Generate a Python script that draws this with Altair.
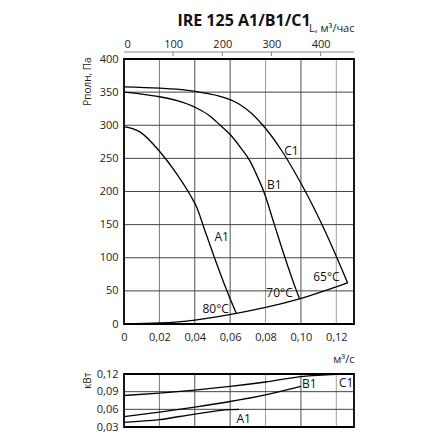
import altair as alt
import pandas as pd

TITLE = "IRE 125 A1/B1/C1"
FONT = "Open Sans"

# axis ticks
q_ticks = [0, 0.02, 0.04, 0.06, 0.08, 0.10, 0.12]
l_ticks = [0, 100, 200, 300, 400]
p_ticks = [0, 50, 100, 150, 200, 250, 300, 350, 400]
n_ticks = [0.03, 0.06, 0.09, 0.12]
q_max = 0.13
l_max = 468
p_max = 400
grid_q = [0.02, 0.04, 0.06, 0.08, 0.10, 0.12]
grid_shades = ["#777777", "#505050", "#505050", "#9a9a9a", "#505050", "#a0a0a0"]
hgrid_p = [50, 100, 150, 200, 250, 300, 350]
hgrid_n = [0.06, 0.09]

# pressure curves (Q m3/s, P Pa)
a1_q = [0, 0.009, 0.0203, 0.0297, 0.038, 0.041, 0.0456, 0.0513, 0.0597, 0.0635]
a1_p = [298, 290, 260, 227, 192, 177, 142, 99, 40, 16]
b1_q = [0, 0.01, 0.02, 0.03, 0.041, 0.048, 0.054, 0.06, 0.066, 0.071, 0.075, 0.079, 0.085, 0.091, 0.0975, 0.0992]
b1_p = [350, 347, 343, 337, 326, 315, 301, 286, 266, 247, 225, 200, 150, 100, 50, 38]
c1_q = [0, 0.02, 0.035, 0.045, 0.055, 0.065, 0.072, 0.0785, 0.0888, 0.1001, 0.1142, 0.1264]
c1_p = [358, 356, 353, 349, 343, 332, 318, 300, 263, 212, 137, 62]
sys_q = [0, 0.02, 0.04, 0.0635, 0.08, 0.0992, 0.1264]
sys_p = [0, 1.5, 6, 16, 25, 38, 62]

# power curves (Q m3/s, N kW)
a1n_q = [0, 0.02, 0.04, 0.06, 0.065]
a1n = [0.038, 0.0425, 0.052, 0.0595, 0.060]
b1n_q = [0, 0.02, 0.04, 0.06, 0.08, 0.10]
b1n = [0.0477, 0.0552, 0.0637, 0.0733, 0.0847, 0.099]
c1n_q = [0, 0.02, 0.04, 0.06, 0.08, 0.10, 0.12, 0.1264]
c1n = [0.0835, 0.0876, 0.0927, 0.0989, 0.1064, 0.1155, 0.1195, 0.12]

# labels
main_lbl_text = ["C1", "B1", "A1", "80°C", "70°C", "65°C"]
main_lbl_q = [0.0946, 0.085, 0.0552, 0.0518, 0.0879, 0.1144]
main_lbl_p = [261, 210, 131, 23, 47, 71]
pow_lbl_text = ["A1", "B1", "C1"]
pow_lbl_q = [0.0676, 0.1048, 0.1256]
pow_lbl_n = [0.0438, 0.1035, 0.1048]


def curves(names, qs, vs, col):
    rows = []
    for name, q, v in zip(names, qs, vs):
        for a, b in zip(q, v):
            rows.append({"curve": name, "Q": a, col: b})
    return pd.DataFrame(rows)


def grid(col, hvals, vlo, vhi):
    rows = []
    for i, (q, s) in enumerate(zip(grid_q, grid_shades)):
        rows.append({"gid": f"v{i}", "Q": q, col: vlo, "shade": s})
        rows.append({"gid": f"v{i}", "Q": q, col: vhi, "shade": s})
    for i, v in enumerate(hvals):
        rows.append({"gid": f"h{i}", "Q": 0, col: v, "shade": "#444444"})
        rows.append({"gid": f"h{i}", "Q": q_max, col: v, "shade": "#444444"})
    return pd.DataFrame(rows)


main_df = curves(["A1", "B1", "C1", "sys"], [a1_q, b1_q, c1_q, sys_q], [a1_p, b1_p, c1_p, sys_p], "P")
pow_df = curves(["A1", "B1", "C1"], [a1n_q, b1n_q, c1n_q], [a1n, b1n, c1n], "N")
grid_main = grid("P", hgrid_p, 0, p_max)
grid_pow = grid("N", hgrid_n, n_ticks[0], n_ticks[-1])
border_main = pd.DataFrame({"Q": [0], "Q2": [q_max], "P": [0], "P2": [p_max]})
border_pow = pd.DataFrame({"Q": [0], "Q2": [q_max], "N": [n_ticks[0]], "N2": [n_ticks[-1]]})
lbl_main = pd.DataFrame({"Q": main_lbl_q, "P": main_lbl_p, "text": main_lbl_text})
lbl_pow = pd.DataFrame({"Q": pow_lbl_q, "N": pow_lbl_n, "text": pow_lbl_text})

top_rows = [{"gid": "dom", "L": 0, "T": 0}, {"gid": "dom", "L": l_max, "T": 0}]
for v in l_ticks[1:]:
    top_rows += [{"gid": f"t{v}", "L": v, "T": 0}, {"gid": f"t{v}", "L": v, "T": 1}]
top_df = pd.DataFrame(top_rows)

xq = alt.Scale(domain=[0, q_max], nice=False)
yp = alt.Scale(domain=[0, p_max], range=[265, 0], nice=False)
yn = alt.Scale(domain=[n_ticks[0], n_ticks[-1]], range=[368, 315], nice=False, zero=False)
xl = alt.Scale(domain=[0, l_max], nice=False)
yt = alt.Scale(domain=[0, 1], range=[-7, -3], nice=False)

common = dict(labelFont=FONT, labelFontSize=11, labelColor="#222", titleFont=FONT,
              titleFontWeight="normal", titleColor="#222")

ax_q = alt.Axis(orient="bottom", values=q_ticks,
                labelExpr="datum.value == 0 ? '0' : replace(format(datum.value, '.2f'), '.', ',')",
                grid=False, ticks=False, tickSize=0, domain=False, offset=-103, labelPadding=7,
                labelFlush=False, title="м³/с", titleX=230, titleY=35, titleAlign="right",
                titleBaseline="middle", titleFontSize=11, **common)
ax_p = alt.Axis(orient="left", values=p_ticks, grid=False,
                ticks=False, tickSize=0, domain=False, labelPadding=6,
                title="Рполн, Па", titleX=-37, titleY=-2, titleAlign="right", titleAngle=270,
                titleBaseline="middle", titleFontSize=10, **common)
ax_n = alt.Axis(orient="left", values=n_ticks,
                labelExpr="replace(format(datum.value, '.2f'), '.', ',')",
                grid=False, ticks=False, tickSize=0, domain=False,
                labelPadding=6, title="кВт", titleX=-37, titleY=313, titleAlign="right",
                titleAngle=270, titleBaseline="middle", titleFontSize=10, **common)
ax_l = alt.Axis(orient="top", values=l_ticks, offset=7, grid=False, ticks=False, tickSize=0,
                domain=False, labelPadding=3,
                title="L, м³/час", titleX=230, titleY=-24, titleAlign="right",
                titleBaseline="middle", titleFontSize=11, **common)

XQ = alt.X("Q:Q", scale=xq, axis=ax_q)
YP = alt.Y("P:Q", scale=yp, axis=ax_p)
XQn = alt.X("Q:Q", scale=xq, axis=None)
YN = alt.Y("N:Q", scale=yn, axis=ax_n)
SHADE = alt.Color("shade:N", scale=None)

main = alt.layer(
    alt.Chart(grid_main).mark_line(strokeWidth=1).encode(
        x=XQ, y=YP, detail="gid:N", color=SHADE),
    alt.Chart(main_df).mark_line(color="black", strokeWidth=1.3, interpolate="monotone").encode(
        x=XQ, y=YP, detail="curve:N"),
    alt.Chart(border_main).mark_rect(fillOpacity=0, stroke="black", strokeWidth=1.8).encode(
        x=XQ, x2="Q2:Q", y=YP, y2="P2:Q"),
    alt.Chart(lbl_main).mark_text(font=FONT, fontSize=12, color="#111").encode(
        x=XQ, y=YP, text="text:N"),
)

power = alt.layer(
    alt.Chart(grid_pow).mark_line(strokeWidth=1).encode(
        x=XQn, y=YN, detail="gid:N", color=SHADE),
    alt.Chart(pow_df).mark_line(color="black", strokeWidth=1.3, interpolate="monotone").encode(
        x=XQn, y=YN, detail="curve:N"),
    alt.Chart(border_pow).mark_rect(fillOpacity=0, stroke="black", strokeWidth=1.8).encode(
        x=XQn, x2="Q2:Q", y=YN, y2="N2:Q"),
    alt.Chart(lbl_pow).mark_text(font=FONT, fontSize=12, color="#111").encode(
        x=XQn, y=YN, text="text:N"),
)

top = alt.Chart(top_df).mark_line(color="#888", strokeWidth=1).encode(
    x=alt.X("L:Q", scale=xl, axis=ax_l),
    y=alt.Y("T:Q", scale=yt, axis=None),
    detail="gid:N")

chart = alt.layer(main, power, top).resolve_scale(x="independent", y="independent").properties(
    width=230, height=368,
    title=alt.TitleParams(TITLE, font=FONT, fontSize=16, fontWeight="bold", anchor="middle",
                          offset=4, dx=5, dy=11, color="#111"),
    padding={"left": 116, "top": 51, "right": 76, "bottom": 5},
    autosize=alt.AutoSizeParams(type="none"),
).configure_view(strokeWidth=0)

chart.save("out.html", embed_options={"renderer": "svg", "actions": False})
